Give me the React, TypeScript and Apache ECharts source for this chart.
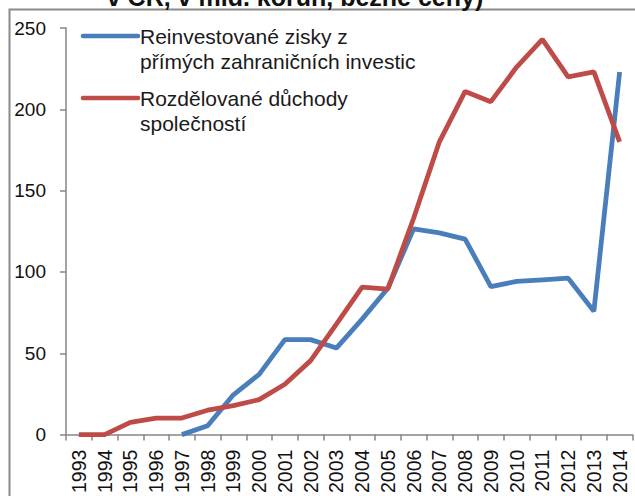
import React, { useEffect, useRef } from "react";
import * as echarts from "echarts";

const years = ["1993","1994","1995","1996","1997","1998","1999","2000","2001","2002","2003","2004","2005","2006","2007","2008","2009","2010","2011","2012","2013","2014"];
const reinvestovane = [null, null, null, null, 0, 5.5, 24.5, 37, 58.4, 58.4, 53.2, 71, 90, 126.5, 124, 120.2, 91, 94.2, 95.2, 96.2, 75.8, 223];
const rozdelovane = [0, 0, 7.5, 10.2, 10.2, 15, 17.8, 21.5, 31, 45.5, 68, 90.7, 89.5, 133, 180, 211, 204.7, 226, 243, 220, 223, 180];
const seriesNames = ["Reinvestované zisky z\npřímých zahraničních investic", "Rozdělované důchody\nspolečností"];
const seriesColors = ["#4A7EBB", "#BE4B48"];
const titleLine = "v ČR, v mld. korun, běžné ceny)";

export default function App() {
  const ref = useRef<HTMLDivElement>(null);
  useEffect(() => {
    const chart = echarts.init(ref.current!, null, { renderer: "svg" });
    const font = "'Liberation Sans', Arial, sans-serif";
    const legendGraphics: any[] = [];
    const legendY = [36, 98];
    seriesNames.forEach((name, i) => {
      legendGraphics.push({
        type: "line",
        shape: { x1: 83, y1: legendY[i], x2: 138, y2: legendY[i] },
        style: { stroke: seriesColors[i], lineWidth: 4.5, lineCap: "round" },
        z: 10,
      });
      legendGraphics.push({
        type: "text",
        x: 140,
        y: legendY[i] - 12,
        style: {
          text: name,
          font: `21px ${font}`,
          fill: "#1a1a1a",
          lineHeight: 25,
          textVerticalAlign: "top",
        },
        z: 10,
      });
    });
    chart.setOption({
      animation: false,
      backgroundColor: "#ffffff",
      grid: { left: 66, right: 2.5, top: 28, bottom: 61, containLabel: false },
      xAxis: {
        type: "category",
        data: years,
        boundaryGap: true,
        axisLine: { lineStyle: { color: "#868686", width: 1.5 } },
        axisTick: { show: true, interval: 0, length: 6, lineStyle: { color: "#868686", width: 1.5 } },
        axisLabel: { rotate: 90, interval: 0, margin: 15, color: "#111", fontSize: 19.5, fontFamily: font },
        splitLine: { show: false },
      },
      yAxis: {
        type: "value",
        min: 0,
        max: 250,
        interval: 50,
        axisLine: { show: true, lineStyle: { color: "#868686", width: 1.5 } },
        axisTick: { show: true, length: 6, lineStyle: { color: "#868686", width: 1.5 } },
        axisLabel: { margin: 20, color: "#111", fontSize: 19, fontFamily: font },
        splitLine: { show: false },
      },
      series: [
        {
          name: seriesNames[0],
          type: "line",
          data: reinvestovane,
          symbol: "none",
          connectNulls: false,
          lineStyle: { color: seriesColors[0], width: 4.8 },
          z: 3,
        },
        {
          name: seriesNames[1],
          type: "line",
          data: rozdelovane,
          symbol: "none",
          lineStyle: { color: seriesColors[1], width: 4.8 },
          z: 4,
        },
      ],
      graphic: [
        {
          type: "rect",
          shape: { x: 9.5, y: 9.5, width: 700, height: 600 },
          style: { fill: "none", stroke: "#8a8a8a", lineWidth: 2 },
          silent: true,
          z: 0,
        },
        {
          type: "text",
          x: 295,
          y: 9,
          style: {
            text: titleLine,
            font: `bold 25px ${font}`,
            fill: "#111",
            textAlign: "center",
            textVerticalAlign: "bottom",
          },
        },
        ...legendGraphics,
      ],
    });
    return () => chart.dispose();
  }, []);
  return (
    <div
      ref={ref}
      style={{ position: "fixed", left: 0, top: 0, width: 635, height: 496, background: "#fff" }}
    />
  );
}
